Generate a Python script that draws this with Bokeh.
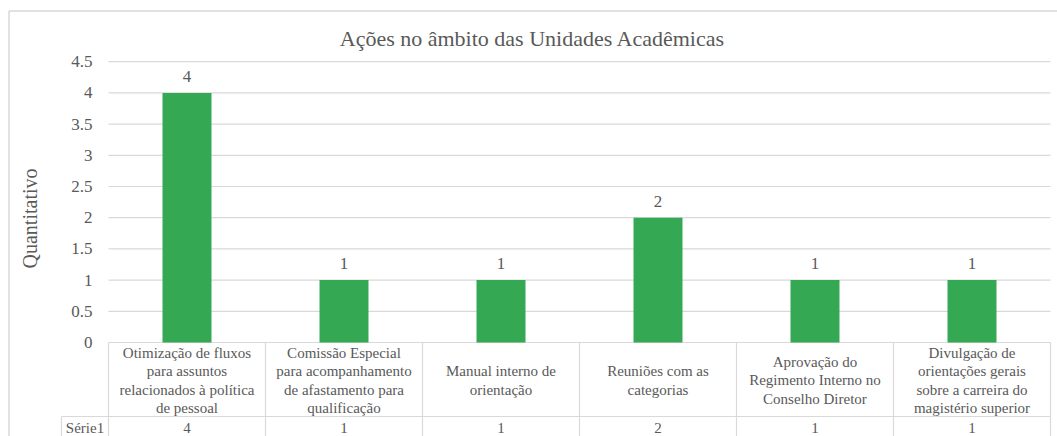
from bokeh.plotting import figure
from bokeh.models import Range1d, FixedTicker, Label
from bokeh.core.properties import value
from bokeh.embed import file_html
from bokeh.resources import INLINE

# ---------------- data ----------------
title_text = "Ações no âmbito das Unidades Acadêmicas"
y_axis_title = "Quantitativo"
series_name = "Série1"
categories = [
    "Otimização de fluxos\npara assuntos\nrelacionados à política\nde pessoal",
    "Comissão Especial\npara acompanhamento\nde afastamento para\nqualificação",
    "Manual interno de\norientação",
    "Reuniões com as\ncategorias",
    "Aprovação do\nRegimento Interno no\nConselho Diretor",
    "Divulgação de\norientações gerais\nsobre a carreira do\nmagistério superior",
]
values = [4, 1, 1, 2, 1, 1]
y_ticks = [0, 0.5, 1, 1.5, 2, 2.5, 3, 3.5, 4, 4.5]
y_tick_labels = ["0", "0.5", "1", "1.5", "2", "2.5", "3", "3.5", "4", "4.5"]

# ---------------- layout (canvas pixels) ----------------
W, H = 1057, 436
X0_PX, PX_X = 108, 157      # canvas x of category-axis origin, px per category
Y0_PX, PX_Y = 342, 62.4     # canvas y of value 0, px per unit


def sx(px):
    return (px - X0_PX) / PX_X


def sy(py):
    return (Y0_PX - py) / PX_Y


FONT = "'Liberation Serif', 'Times New Roman', serif"
TXT = "#595959"
GRID = "#d9d9d9"
BAR = "#34a853"

n = len(categories)
xs = [i + 0.5 for i in range(n)]

p = figure(width=W, height=H, output_backend="svg", toolbar_location=None,
           x_range=Range1d(sx(0), sx(W)), y_range=Range1d(sy(H), sy(0)),
           x_axis_location=None, min_border_left=0, min_border_right=0,
           min_border_top=0, min_border_bottom=0, tools="")
p.outline_line_color = None
p.xgrid.visible = False
p.ygrid.visible = False
p.background_fill_color = "white"
p.border_fill_color = "white"

# y axis drawn at x = 0 inside the frame
ax = p.yaxis[0]
ax.fixed_location = 0
ax.ticker = FixedTicker(ticks=y_ticks)
ax.major_label_overrides = dict(zip(y_ticks, y_tick_labels))
ax.axis_line_color = None
ax.major_tick_line_color = None
ax.minor_tick_line_color = None
ax.major_label_standoff = 10
ax.major_label_text_font = FONT
ax.major_label_text_font_size = "17px"
ax.major_label_text_color = TXT
ax.axis_label = y_axis_title
ax.axis_label_text_font = FONT
ax.axis_label_text_font_size = "20px"
ax.axis_label_text_font_style = "normal"
ax.axis_label_text_color = TXT
ax.axis_label_standoff = 27

# outer chart border (top & left)
p.segment(x0=[sx(8.5), sx(8.5)], x1=[sx(W), sx(8.5)],
          y0=[sy(10.5), sy(10.5)], y1=[sy(10.5), sy(H)],
          line_color=GRID, line_width=1.5)

# title
p.add_layout(Label(x=sx(532), y=sy(38), text=title_text, text_align="center",
                   text_baseline="middle", text_font=FONT,
                   text_font_size="22px", text_color=TXT))

# gridlines
p.segment(x0=[0] * len(y_ticks), x1=[n] * len(y_ticks), y0=y_ticks, y1=y_ticks,
          line_color=GRID, line_width=1.2)

# bars
p.vbar(x=xs, top=values, bottom=0, width=0.312, fill_color=BAR, line_color=None)

# value labels
p.text(x=xs, y=values, text=[str(v) for v in values], text_align="center",
       text_baseline="bottom", y_offset=-11, text_font=value(FONT),
       text_font_size="17px", text_color=TXT)

# data table
row_split = sy(416)
cell_left = sx(61)
bottom = sy(H)
p.segment(x0=[cell_left], x1=[n], y0=[row_split], y1=[row_split],
          line_color=GRID, line_width=1.2)
p.segment(x0=list(range(n + 1)), x1=list(range(n + 1)),
          y0=[0] * (n + 1), y1=[bottom] * (n + 1), line_color=GRID, line_width=1.2)
p.segment(x0=[cell_left], x1=[cell_left], y0=[row_split], y1=[bottom],
          line_color=GRID, line_width=1.2)

p.text(x=xs, y=[sy(380)] * n, text=categories, text_align="center",
       text_baseline="middle", text_font=value(FONT), text_font_size="15px",
       text_line_height=1.13, text_color=TXT)
p.text(x=xs, y=[sy(427)] * n, text=[str(v) for v in values], text_align="center",
       text_baseline="middle", text_font=value(FONT), text_font_size="15px",
       text_color=TXT)
p.text(x=[cell_left / 2], y=[sy(427)], text=[series_name], text_align="center",
       text_baseline="middle", text_font=value(FONT), text_font_size="15px",
       text_color=TXT)

open("out.html", "w").write(file_html(p, INLINE))
